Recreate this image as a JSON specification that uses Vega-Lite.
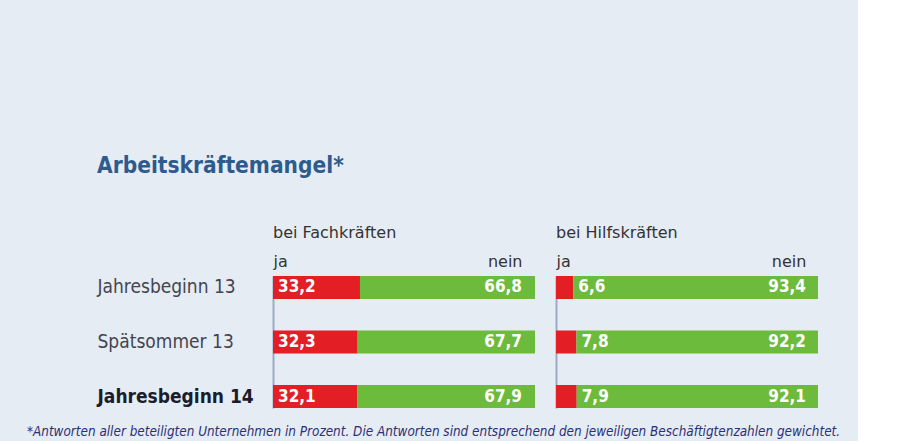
{
  "$schema": "https://vega.github.io/schema/vega-lite/v6.json",
  "background": "#e6ecf3",
  "padding": {"left": 27, "top": 154, "right": 17, "bottom": 2},
  "config": {
    "view": {"stroke": null},
    "font": "DejaVu Sans Condensed",
    "locale": {"number": {"decimal": ",", "thousands": ".", "grouping": [3], "currency": ["", " €"]}}
  },
  "datasets": {
    "umfrage": [
      {"gruppe": "Fachkräfte", "zeitpunkt": "Jahresbeginn 13", "ja": 33.2, "nein": 66.8},
      {"gruppe": "Fachkräfte", "zeitpunkt": "Spätsommer 13", "ja": 32.3, "nein": 67.7},
      {"gruppe": "Fachkräfte", "zeitpunkt": "Jahresbeginn 14", "ja": 32.1, "nein": 67.9},
      {"gruppe": "Hilfskräfte", "zeitpunkt": "Jahresbeginn 13", "ja": 6.6, "nein": 93.4},
      {"gruppe": "Hilfskräfte", "zeitpunkt": "Spätsommer 13", "ja": 7.8, "nein": 92.2},
      {"gruppe": "Hilfskräfte", "zeitpunkt": "Jahresbeginn 14", "ja": 7.9, "nein": 92.1}
    ]
  },
  "data": {"name": "umfrage"},
  "title": {
    "text": "*Antworten aller beteiligten Unternehmen in Prozent. Die Antworten sind entsprechend den jeweiligen Beschäftigtenzahlen gewichtet.",
    "orient": "bottom", "anchor": "start", "frame": "bounds", "dx": -70, "offset": 17,
    "font": "DejaVu Sans Condensed", "fontSize": 13.4, "fontStyle": "italic", "fontWeight": "normal", "color": "#2b2f78"
  },
  "vconcat": [
    {
      "title": {
        "text": "Arbeitskräftemangel*", "anchor": "start", "frame": "bounds", "offset": 48,
        "font": "DejaVu Sans Condensed", "fontSize": 22.5, "fontWeight": "bold", "color": "#2d5b8e"
      },
      "spacing": 21,
      "hconcat": [
        {
          "width": 262, "height": 132,
          "title": {"text": "bei Fachkräften", "anchor": "start", "frame": "group", "font": "DejaVu Sans", "fontSize": 16, "fontWeight": "normal", "color": "#333333", "offset": 12},
          "transform": [{"filter": "datum.gruppe == 'Fachkräfte'"}],
          "encoding": {
            "y": {
              "field": "zeitpunkt", "type": "nominal",
              "sort": ["Jahresbeginn 13", "Spätsommer 13", "Jahresbeginn 14"],
              "scale": {"paddingInner": 0.578, "paddingOuter": 0},
              "axis": {
                "title": null, "ticks": false, "domain": true, "domainColor": "#9aadc6", "domainWidth": 2,
                "labelAlign": "left", "labelPadding": 176, "labelFontSize": 19,
                "labelColor": {"condition": {"test": "datum.value == 'Jahresbeginn 14'", "value": "#1c1c2c"}, "value": "#444450"},
                "labelFontWeight": {"condition": {"test": "datum.value == 'Jahresbeginn 14'", "value": "bold"}, "value": "normal"}
              }
            },
            "x": {
              "field": "ja", "type": "quantitative", "scale": {"domain": [0, 100], "nice": false},
              "axis": {
                "orient": "top", "title": null, "values": [0, 95.04], "domain": false, "ticks": false, "grid": false,
                "labelExpr": "datum.value == 0 ? 'ja' : 'nein'", "labelFont": "DejaVu Sans", "labelFontSize": 16, "labelColor": "#333333",
                "labelPadding": 7, "labelFlush": 15, "labelFlushOffset": 0, "labelOverlap": false
              }
            }
          },
          "layer": [
            {"mark": {"type": "bar", "color": "#e31e24"}},
            {"mark": {"type": "bar", "color": "#6cbb3c"}, "encoding": {"x2": {"datum": 100}}},
            {
              "mark": {"type": "text", "align": "left", "dx": 5, "color": "white", "fontWeight": "bold", "fontSize": 17},
              "encoding": {"x": {"datum": 0, "type": "quantitative"}, "text": {"field": "ja", "type": "quantitative", "format": ".1f"}}
            },
            {
              "mark": {"type": "text", "align": "right", "dx": -13, "color": "white", "fontWeight": "bold", "fontSize": 17},
              "encoding": {"x": {"datum": 100, "type": "quantitative"}, "text": {"field": "nein", "type": "quantitative", "format": ".1f"}}
            }
          ]
        },
        {
          "width": 262, "height": 132,
          "title": {"text": "bei Hilfskräften", "anchor": "start", "frame": "group", "font": "DejaVu Sans", "fontSize": 16, "fontWeight": "normal", "color": "#333333", "offset": 12},
          "transform": [{"filter": "datum.gruppe == 'Hilfskräfte'"}],
          "encoding": {
            "y": {
              "field": "zeitpunkt", "type": "nominal",
              "sort": ["Jahresbeginn 13", "Spätsommer 13", "Jahresbeginn 14"],
              "scale": {"paddingInner": 0.578, "paddingOuter": 0},
              "axis": {"title": null, "ticks": false, "labels": false, "domain": true, "domainColor": "#9aadc6", "domainWidth": 2}
            },
            "x": {
              "field": "ja", "type": "quantitative", "scale": {"domain": [0, 100], "nice": false},
              "axis": {
                "orient": "top", "title": null, "values": [0, 95.4], "domain": false, "ticks": false, "grid": false,
                "labelExpr": "datum.value == 0 ? 'ja' : 'nein'", "labelFont": "DejaVu Sans", "labelFontSize": 16, "labelColor": "#333333",
                "labelPadding": 7, "labelFlush": 15, "labelFlushOffset": 0, "labelOverlap": false
              }
            }
          },
          "layer": [
            {"mark": {"type": "bar", "color": "#e31e24"}},
            {"mark": {"type": "bar", "color": "#6cbb3c"}, "encoding": {"x2": {"datum": 100}}},
            {
              "mark": {"type": "text", "align": "left", "dx": 5, "color": "white", "fontWeight": "bold", "fontSize": 17},
              "encoding": {"text": {"field": "ja", "type": "quantitative", "format": ".1f"}}
            },
            {
              "mark": {"type": "text", "align": "right", "dx": -12, "color": "white", "fontWeight": "bold", "fontSize": 17},
              "encoding": {"x": {"datum": 100, "type": "quantitative"}, "text": {"field": "nein", "type": "quantitative", "format": ".1f"}}
            }
          ]
        }
      ]
    }
  ]
}
